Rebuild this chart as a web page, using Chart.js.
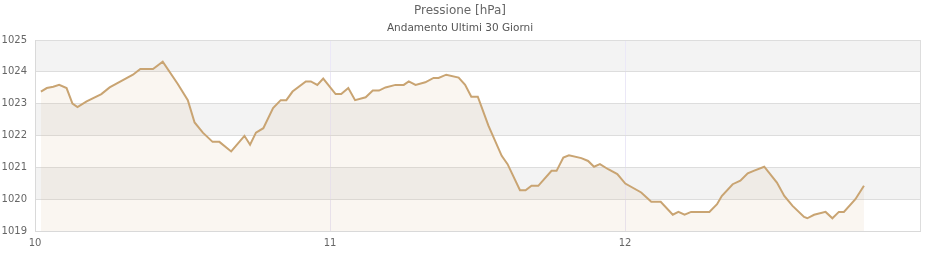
<!DOCTYPE html>
<html>
<head>
<meta charset="utf-8">
<script src="https://cdn.jsdelivr.net/npm/chart.js@4.4.1/dist/chart.umd.min.js"></script>
<style>
  html, body { margin: 0; padding: 0; background: #ffffff; }
  #wrap { width: 940px; height: 260px; position: relative; }
</style>
</head>
<body>
<div id="wrap"><canvas id="c" width="940" height="260"></canvas></div>
<script>
// Time in days (day of month + fraction of day)
const times = [
  10.020, 10.040, 10.062, 10.082, 10.107, 10.127, 10.144, 10.175, 10.225, 10.253,
  10.298, 10.332, 10.357, 10.400, 10.433, 10.484, 10.518, 10.541, 10.569, 10.602,
  10.625, 10.665, 10.710, 10.729, 10.749, 10.774, 10.807, 10.833, 10.852, 10.873,
  10.918, 10.935, 10.957, 10.977, 11.019, 11.038, 11.062, 11.085, 11.121, 11.145,
  11.166, 11.188, 11.222, 11.250, 11.267, 11.290, 11.323, 11.351, 11.368, 11.394,
  11.436, 11.458, 11.479, 11.501, 11.537, 11.582, 11.602, 11.644, 11.663, 11.683,
  11.706, 11.751, 11.768, 11.791, 11.810, 11.852, 11.875, 11.895, 11.915, 11.943,
  11.974, 12.001, 12.055, 12.089, 12.121, 12.162, 12.181, 12.202, 12.224, 12.286,
  12.312, 12.328, 12.365, 12.391, 12.416, 12.436, 12.472, 12.515, 12.540, 12.568,
  12.607, 12.618, 12.641, 12.680, 12.703, 12.725, 12.742, 12.781, 12.810
];
// Pressure values [hPa]
const pressure = [
  1023.38, 1023.49, 1023.53, 1023.59, 1023.49, 1023.00, 1022.89, 1023.07, 1023.30, 1023.51,
  1023.74, 1023.91, 1024.09, 1024.09, 1024.32, 1023.62, 1023.11, 1022.41, 1022.09, 1021.80,
  1021.80, 1021.50, 1021.99, 1021.71, 1022.09, 1022.23, 1022.86, 1023.11, 1023.11, 1023.38,
  1023.70, 1023.70, 1023.59, 1023.79, 1023.30, 1023.30, 1023.49, 1023.11, 1023.20, 1023.41,
  1023.41, 1023.51, 1023.59, 1023.59, 1023.70, 1023.59, 1023.67, 1023.81, 1023.81, 1023.91,
  1023.82, 1023.59, 1023.22, 1023.22, 1022.31, 1021.36, 1021.10, 1020.28, 1020.28, 1020.42,
  1020.42, 1020.89, 1020.89, 1021.31, 1021.38, 1021.29, 1021.20, 1021.02, 1021.10, 1020.94,
  1020.79, 1020.49, 1020.21, 1019.92, 1019.92, 1019.51, 1019.60, 1019.51, 1019.60, 1019.60,
  1019.84, 1020.10, 1020.47, 1020.58, 1020.81, 1020.89, 1021.02, 1020.52, 1020.10, 1019.79,
  1019.44, 1019.40, 1019.51, 1019.60, 1019.40, 1019.60, 1019.60, 1020.00, 1020.42
];
const xTickDays = [10, 11, 12];
const yMin = 1019, yMax = 1025;
const titleText = 'Pressione [hPa]';
const subtitleText = 'Andamento Ultimi 30 Giorni';

const points = times.map((t, i) => ({ x: t, y: pressure[i] }));

const bandsPlugin = {
  id: 'bands',
  beforeDraw(chart) {
    const { ctx, chartArea, scales } = chart;
    const y = scales.y;
    ctx.save();
    ctx.fillStyle = '#f3f3f3';
    for (let v = yMax; v > yMin; v -= 2) {
      const top = y.getPixelForValue(v);
      const bot = y.getPixelForValue(v - 1);
      ctx.fillRect(chartArea.left, top, chartArea.right - chartArea.left, bot - top);
    }
    ctx.restore();
  }
};

new Chart(document.getElementById('c'), {
  type: 'line',
  data: {
    datasets: [{
      data: points,
      borderColor: '#c9a472',
      backgroundColor: 'rgba(210,180,140,0.12)',
      borderWidth: 2,
      pointRadius: 0,
      tension: 0,
      fill: 'start'
    }]
  },
  options: {
    responsive: false,
    animation: false,
    layout: { padding: { left: 0, right: 20, top: 0, bottom: 5 } },
    plugins: {
      legend: { display: false },
      tooltip: { enabled: false },
      title: {
        display: true, text: titleText, color: '#666',
        font: { family: 'DejaVu Sans', size: 12, weight: 'normal' },
        padding: { top: 4, bottom: 2 }
      },
      subtitle: {
        display: true, text: subtitleText, color: '#555',
        font: { family: 'DejaVu Sans', size: 10.5, weight: 'normal' },
        padding: { top: 2, bottom: 5 }
      }
    },
    scales: {
      x: {
        type: 'linear', min: 10, max: 13,
        afterBuildTicks(scale) {
          scale.ticks = xTickDays.concat([13]).map(v => ({ value: v }));
        },
        ticks: {
          color: '#666', padding: 6, maxRotation: 0,
          font: { family: 'DejaVu Sans', size: 10 },
          callback: (v) => xTickDays.includes(v) ? String(v) : ''
        },
        grid: {
          drawTicks: false,
          color: (c) => (c.tick && (c.tick.value === 10 || c.tick.value === 13)) ? '#dddddd' : '#ebe8f7',
          lineWidth: 1
        },
        border: { color: '#d9d9d9', width: 1 }
      },
      y: {
        min: yMin, max: yMax,
        afterFit(scale) { scale.width = 35; },
        ticks: {
          stepSize: 1, color: '#666', padding: 8,
          font: { family: 'DejaVu Sans', size: 10 },
          callback: (v) => String(v)
        },
        grid: { drawTicks: false, color: '#dddddd', lineWidth: 1 },
        border: { color: '#d9d9d9', width: 1 }
      }
    }
  },
  plugins: [bandsPlugin]
});
</script>
</body>
</html>
